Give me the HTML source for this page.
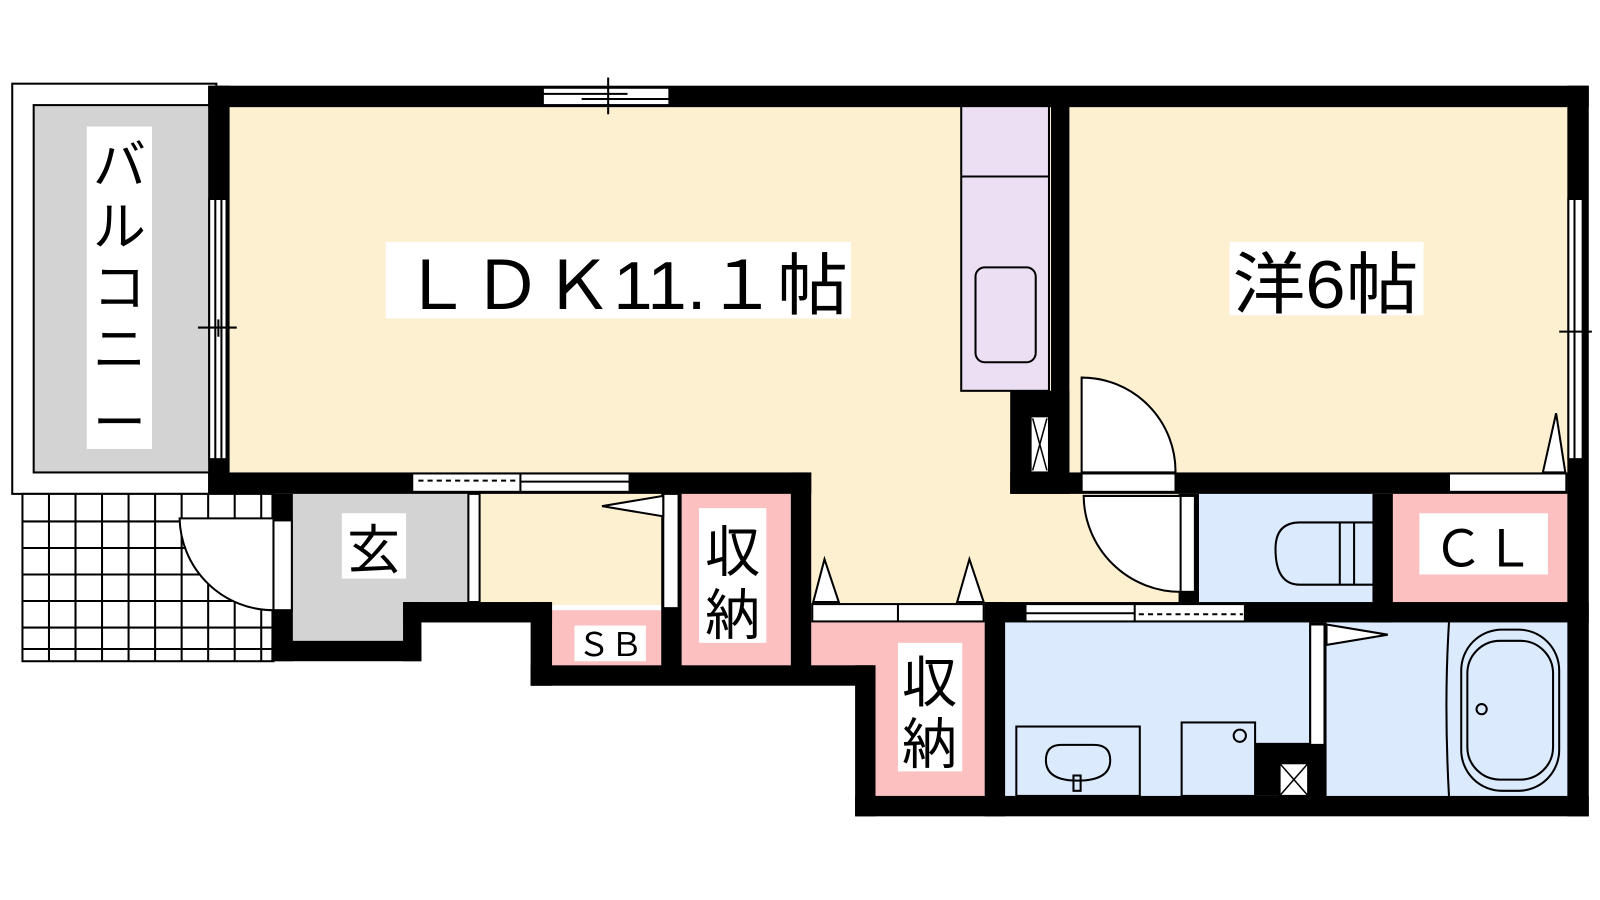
<!DOCTYPE html>
<html><head><meta charset="utf-8"><style>
html,body{margin:0;padding:0;background:#fff;}
svg{display:block}
text{font-family:"Liberation Sans","Noto Sans CJK JP",sans-serif;fill:#000}
</style></head><body>
<svg width="1600" height="900" viewBox="0 0 1568 882" preserveAspectRatio="none" xmlns="http://www.w3.org/2000/svg">
<!-- balcony -->
<rect x="12" y="82" width="200" height="402" fill="#fff" stroke="#000" stroke-width="2"/>
<rect x="33" y="103" width="176" height="360" fill="#d3d3d3" stroke="#000" stroke-width="2"/>
<!-- tile area -->
<g stroke="#000" stroke-width="2">
<rect x="22" y="484" width="246" height="164" fill="#fff"/>
<line x1="48" y1="484" x2="48" y2="648"/><line x1="74" y1="484" x2="74" y2="648"/><line x1="100" y1="484" x2="100" y2="648"/><line x1="126" y1="484" x2="126" y2="648"/><line x1="152" y1="484" x2="152" y2="648"/><line x1="178" y1="484" x2="178" y2="648"/><line x1="204" y1="484" x2="204" y2="648"/><line x1="230" y1="484" x2="230" y2="648"/><line x1="256" y1="484" x2="256" y2="648"/>
<line x1="22" y1="511" x2="268" y2="511"/><line x1="22" y1="537" x2="268" y2="537"/><line x1="22" y1="563" x2="268" y2="563"/><line x1="22" y1="589" x2="268" y2="589"/><line x1="22" y1="615" x2="268" y2="615"/><line x1="22" y1="636" x2="268" y2="636"/>
</g>
<!-- floors -->
<rect x="224" y="103" width="810" height="363" fill="#fdf0d0"/>
<rect x="463" y="463" width="190" height="130" fill="#fdf0d0"/>
<rect x="795" y="463" width="200" height="130" fill="#fdf0d0"/>
<rect x="990" y="463" width="180" height="130" fill="#fdf0d0"/>
<rect x="1046" y="103" width="492" height="363" fill="#fdf0d0"/>
<rect x="287" y="484" width="176" height="108" fill="#d3d3d3"/>
<rect x="287" y="484" width="110" height="144" fill="#d3d3d3"/>
<rect x="541" y="598" width="107" height="56" fill="#fcc0c0"/>
<rect x="668" y="484" width="107" height="170" fill="#fcc0c0"/>
<rect x="795" y="610" width="170" height="44" fill="#fcc0c0"/>
<rect x="858" y="650" width="107" height="132" fill="#fcc0c0"/>
<rect x="1175" y="484" width="170" height="106" fill="#dbeafd"/>
<rect x="1365" y="484" width="171" height="106" fill="#fcc0c0"/>
<rect x="985" y="610" width="551" height="170" fill="#dbeafd"/>
<!-- kitchen -->
<rect x="942" y="103" width="86" height="280" fill="#ecdff3" stroke="#000" stroke-width="2"/>
<line x1="942" y1="173" x2="1028" y2="173" stroke="#000" stroke-width="2"/>
<rect x="956" y="262" width="59" height="93" rx="9" fill="none" stroke="#000" stroke-width="2"/>
<!-- walls -->
<g fill="#000">
<rect x="204" y="84" width="1353" height="21"/>
<rect x="204" y="84" width="21" height="400"/>
<rect x="1536" y="84" width="21" height="716"/>
<rect x="204" y="463" width="591" height="21"/>
<rect x="1030" y="103" width="18" height="380"/>
<rect x="990" y="383" width="58" height="101"/>
<rect x="990" y="463" width="546" height="21"/>
<rect x="266" y="484" width="21" height="164"/>
<rect x="266" y="628" width="147" height="20"/>
<rect x="395" y="590" width="18" height="58"/>
<rect x="395" y="590" width="146" height="20"/>
<rect x="520" y="590" width="21" height="82"/>
<rect x="520" y="652" width="338" height="20"/>
<rect x="648" y="484" width="20" height="170"/>
<rect x="775" y="463" width="20" height="191"/>
<rect x="838" y="652" width="20" height="148"/>
<rect x="838" y="780" width="719" height="20"/>
<rect x="965" y="590" width="20" height="210"/>
<rect x="965" y="590" width="592" height="20"/>
<rect x="1345" y="484" width="20" height="126"/>
<rect x="1155" y="484" width="20" height="106"/>
<rect x="1283" y="610" width="17" height="170"/>
<rect x="1230" y="728" width="70" height="52"/>
</g>
<!-- windows -->
<g fill="#fff" stroke="#000" stroke-width="2">
<rect x="532" y="86" width="124" height="17"/>
<line x1="532" y1="92" x2="615" y2="92"/><line x1="570" y1="97" x2="656" y2="97"/>
<line x1="596" y1="76" x2="596" y2="112"/>
<rect x="205" y="195" width="17" height="255"/>
<line x1="211" y1="195" x2="211" y2="450"/><line x1="217" y1="195" x2="217" y2="450"/>
<line x1="194" y1="321" x2="232" y2="321"/><line x1="214" y1="313" x2="214" y2="330"/>
<rect x="1537" y="195" width="14" height="255"/>
<line x1="1543" y1="195" x2="1543" y2="450"/><line x1="1528" y1="325" x2="1560" y2="325"/>
<rect x="404" y="464" width="213" height="18"/>
<line x1="510" y1="464" x2="510" y2="482"/><line x1="510" y1="472" x2="617" y2="472"/>
<rect x="1005" y="592" width="215" height="17"/>
<line x1="1005" y1="601" x2="1112" y2="601"/><line x1="1112" y1="592" x2="1112" y2="609"/>
</g>
<line x1="410" y1="471" x2="508" y2="471" stroke="#000" stroke-width="2" stroke-dasharray="5 4"/>
<line x1="1116" y1="602" x2="1218" y2="602" stroke="#000" stroke-width="2" stroke-dasharray="5 4"/>
<!-- doors -->
<g fill="#fff" stroke="#000" stroke-width="2">
<rect x="268" y="510" width="18" height="88"/>
<path d="M268 598 A92 92 0 0 1 176 508 L268 508 Z"/>
<rect x="459" y="484" width="11" height="106"/>
<rect x="650" y="484" width="15" height="112"/>
<path d="M650 486 L590 496 L650 506 Z"/>
<rect x="796" y="592" width="168" height="17"/><line x1="880" y1="592" x2="880" y2="609"/>
<path d="M797 590 L808 548 L822 590 Z"/><path d="M938 590 L950 548 L964 590 Z"/>
<path d="M1060 370 A92 92 0 0 1 1152 463 L1060 463 Z"/>
<rect x="1060" y="464" width="92" height="18"/>
<path d="M1158 580 A95 95 0 0 1 1062 486 L1158 486 Z"/>
<rect x="1157" y="486" width="14" height="94"/>
<rect x="1420" y="464" width="115" height="18"/>
<path d="M1512 463 L1525 405 L1534 463 Z"/>
<rect x="1284" y="612" width="14" height="118"/>
<path d="M1300 612 L1360 622 L1300 632 Z"/>
<rect x="1010" y="408" width="18" height="55"/>
<rect x="1254" y="748" width="28" height="32"/>
</g>
<g stroke="#000" stroke-width="1.5"><line x1="1012" y1="410" x2="1026" y2="461"/><line x1="1026" y1="410" x2="1012" y2="461"/>
<line x1="1254" y1="748" x2="1282" y2="780"/><line x1="1282" y1="748" x2="1254" y2="780"/></g>
<!-- fixtures -->
<g fill="none" stroke="#000" stroke-width="2">
<path d="M1346 512 L1274 512 Q1250 512 1250 538 Q1250 573 1274 573 L1346 573"/>
<line x1="1313" y1="512" x2="1313" y2="573"/><line x1="1327" y1="512" x2="1327" y2="573"/>
<rect x="996" y="712" width="121" height="68"/>
<path d="M1040 730 Q1025 730 1025 745 Q1025 765 1056 765 Q1088 765 1088 745 Q1088 730 1072 730 Z"/>
<rect x="1052" y="760" width="7" height="15"/>
<rect x="1158" y="708" width="72" height="72"/>
<circle cx="1215" cy="721" r="6"/>
<path d="M1420 610 Q1415 690 1420 780"/>
<rect x="1432" y="617" width="96" height="158" rx="40"/>
<rect x="1438" y="628" width="84" height="136" rx="32"/>
<circle cx="1452" cy="695" r="5"/>
</g>
<!-- labels -->
<rect x="85" y="124" width="64" height="316" fill="#fff"/>
<text x="117" y="180" font-size="52" text-anchor="middle">バ</text>
<text x="117" y="240" font-size="52" text-anchor="middle">ル</text>
<text x="117" y="300" font-size="52" text-anchor="middle">コ</text>
<text x="117" y="360" font-size="52" text-anchor="middle">ニ</text>
<text x="117" y="432" font-size="52" text-anchor="middle">ー</text>
<rect x="378" y="237" width="456" height="75" fill="#fff"/>
<text x="393" y="303" font-size="66" textLength="438" lengthAdjust="spacingAndGlyphs">ＬＤＫ11.１帖</text>
<rect x="1205" y="237" width="190" height="72" fill="#fff"/>
<text x="1208" y="302" font-size="66" textLength="182" lengthAdjust="spacingAndGlyphs">洋6帖</text>
<rect x="335" y="503" width="63" height="64" fill="#fff"/>
<text x="366" y="557" font-size="52" text-anchor="middle">玄</text>
<rect x="685" y="498" width="66" height="132" fill="#fff"/>
<text x="718" y="560" font-size="54" text-anchor="middle">収</text>
<text x="718" y="622" font-size="54" text-anchor="middle">納</text>
<rect x="880" y="630" width="63" height="126" fill="#fff"/>
<text x="911" y="688" font-size="54" text-anchor="middle">収</text>
<text x="911" y="748" font-size="54" text-anchor="middle">納</text>
<rect x="563" y="613" width="70" height="35" fill="#fff"/>
<text x="598" y="643" font-size="32" text-anchor="middle">ＳＢ</text>
<rect x="1391" y="503" width="126" height="60" fill="#fff"/>
<text x="1454" y="555" font-size="50" text-anchor="middle">ＣＬ</text>
</svg>
</body></html>
